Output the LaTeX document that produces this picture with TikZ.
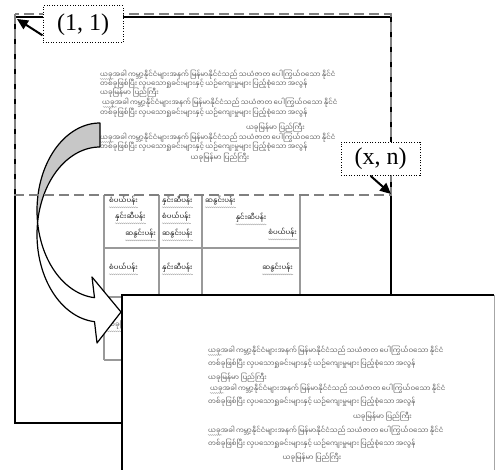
\documentclass[tikz,border=0pt]{standalone}
\usepackage{fontspec}
\setmainfont{Liberation Serif}
\newfontfamily\mmfont[Script=Myanmar]{Noto Sans Myanmar UI}
\usetikzlibrary{arrows.meta,decorations.pathmorphing}

% paragraph used on the page and in the enlarged view
\newcommand{\mmLineA}{ယခုအခါ ကမ္ဘာ့နိုင်ငံများအနက် မြန်မာနိုင်ငံသည် သယံဇာတ ပေါကြွယ်ဝသော နိုင်ငံ}
\newcommand{\mmLineB}{တစ်ခုဖြစ်ပြီး လှပသောရှုခင်းများနှင့် ယဉ်ကျေးမှုများ ပြည့်စုံသော အလွန်}
\newcommand{\mmLineC}{ယခုမြန်မာ ပြည်ကြီး}
\newcommand{\mmJasmine}{စံပယ်ပန်း}
\newcommand{\mmRose}{နှင်းဆီပန်း}
\newcommand{\mmTurmeric}{ဆနွင်းပန်း}

\begin{document}
\begin{tikzpicture}[x=1pt,y=-1pt,
  pageframe/.style={draw=black,line width=2.5pt},
  viewport/.style={draw=black!50,line width=2pt,dash pattern=on 10pt off 5pt},
  bodyline/.style={font=\mmfont\fontsize{7}{8}\selectfont,text=black!62,inner sep=0pt},
  celltext/.style={font=\mmfont\fontsize{7}{8}\selectfont,text=black!90,inner sep=0pt},
  gridline/.style={draw=black!40,line width=1.2pt},
  spellmark/.style={draw=black!35,line width=0.4pt,decorate,
    decoration={snake,amplitude=0.5pt,segment length=2pt}},
  coordlabel/.style={draw=black,fill=white,line width=1pt,dash pattern=on 1pt off 1.6pt,
    font=\fontsize{24}{26}\selectfont,inner sep=2pt},
  pointer/.style={-{Triangle[length=11pt,width=10pt]},line width=2pt},
  ribbonback/.style={fill=black!22,draw=black,line width=1.2pt,line join=round},
  ribbonfront/.style={fill=white,draw=black,line width=1.2pt,line join=round},
]
\useasboundingbox (0,0) rectangle (496,470);
\fill[white] (0,0) rectangle (496,470);

% ---- the page -------------------------------------------------------
\draw[pageframe] (15,17) rectangle (391,423);

% text block on the page: left, right and centred paragraphs
\node[bodyline,anchor=west] (p1a) at (100,75)  {\makebox[205pt][s]{\mmLineA}};
\node[bodyline,anchor=west] (p1b) at (100,84)  {\makebox[205pt][s]{\mmLineB}};
\node[bodyline,anchor=west] (p1c) at (100,93)  {\mmLineC};
\node[bodyline,anchor=west] (p2a) at (102,103) {\makebox[203pt][s]{\mmLineA}};
\node[bodyline,anchor=west] (p2b) at (100,113) {\makebox[205pt][s]{\mmLineB}};
\node[bodyline,anchor=east] (p2c) at (305,128) {\mmLineC};
\node[bodyline,anchor=west] (p3a) at (100,138) {\makebox[205pt][s]{\mmLineA}};
\node[bodyline,anchor=west] (p3b) at (100,147) {\makebox[205pt][s]{\mmLineB}};
\node[bodyline] (p3c) at (220,158) {\mmLineC};
\draw[spellmark] (100,79) -- (114,79);
\draw[spellmark] (103,107) -- (117,107);
\draw[spellmark] (100,142) -- (114,142);

% table on the page
\foreach \gx in {104,159,202,300} \draw[gridline] (\gx,195) -- (\gx,360);
\foreach \gy in {248,297,360} \draw[gridline] (104,\gy) -- (300,\gy);
\node[celltext,anchor=west] (c11a) at (109,201) {\mmJasmine};
\node[celltext,anchor=west] (c11b) at (115,217) {\mmRose};
\node[celltext,anchor=east] (c11c) at (156,234) {\mmTurmeric};
\node[celltext,anchor=west] (c12a) at (162,201) {\mmRose};
\node[celltext,anchor=west] (c12b) at (162,217) {\mmJasmine};
\node[celltext,anchor=west] (c12c) at (162,234) {\mmTurmeric};
\node[celltext,anchor=west] (c13a) at (205,201) {\mmTurmeric};
\node[celltext,anchor=center] (c13b) at (251,218) {\mmRose};
\node[celltext,anchor=east] (c13c) at (297,233) {\mmJasmine};
\node[celltext,anchor=west] (c21) at (109,268) {\mmJasmine};
\node[celltext,anchor=west] (c22) at (162,268) {\mmRose};
\node[celltext,anchor=east] (c23) at (293,268) {\mmTurmeric};
\node[bodyline,anchor=west] (c31) at (107,325) {\mmLineC};
\foreach \w in {c11a,c11b,c11c,c12a,c12b,c12c,c13a,c13b,c13c,c21,c22,c23,c31}
  \draw[spellmark] ([yshift=-1.5pt]\w.south west) -- ([yshift=-1.5pt]\w.south east);

% ---- curved ribbon arrow ---------------------------------------------
\filldraw[ribbonback]
  plot[domain=90:187.88,samples=40] ({100+63*cos(\x)},{210.5-87.5*sin(\x)})
  -- plot[domain=172.12:90,samples=40] ({100+63*cos(\x)},{234.5-87.5*sin(\x)})
  -- cycle;
\filldraw[ribbonfront]
  plot[domain=172.12:265,samples=50] ({100+63*cos(\x)},{234.5-87.5*sin(\x)})
  -- (97,343) -- (121,312) -- (92,277)
  -- plot[domain=265:187.88,samples=50] ({100+63*cos(\x)},{210.5-87.5*sin(\x)})
  -- cycle;

% ---- visible region (1,1)-(x,n) --------------------------------------
\draw[viewport] (15,14) rectangle (391,195);

\coordinate (origin) at (17,19);
\coordinate (corner) at (391,194);
\node[coordlabel,minimum width=80pt,minimum height=37pt] (lab1) at (83,24.5) {(1, 1)};
\node[coordlabel,minimum width=79pt,minimum height=33pt] (lab2) at (380.5,159) {(x, n)};
\draw[pointer] (lab1.195) -- (origin);
\draw[pointer] (lab2.240) -- (corner);

% ---- enlarged view -----------------------------------------------------
\fill[white] (122,295) rectangle (496,470);
\draw[black!35,line width=1pt] (494,295) -- (494,470);
\draw[black,line width=2.5pt] (122,471) -- (122,295) -- (494,295);

\node[bodyline,anchor=west] (q1a) at (208,351) {\makebox[204pt][s]{\mmLineA}};
\node[bodyline,anchor=west] (q1b) at (208,364) {\makebox[204pt][s]{\mmLineB}};
\node[bodyline,anchor=west] (q1c) at (208,378) {\mmLineC};
\node[bodyline,anchor=west] (q2a) at (210,389) {\makebox[202pt][s]{\mmLineA}};
\node[bodyline,anchor=west] (q2b) at (208,402) {\makebox[204pt][s]{\mmLineB}};
\node[bodyline,anchor=east] (q2c) at (412,417) {\mmLineC};
\node[bodyline,anchor=west] (q3a) at (208,431) {\makebox[204pt][s]{\mmLineA}};
\node[bodyline,anchor=west] (q3b) at (208,444) {\makebox[204pt][s]{\mmLineB}};
\node[bodyline] (q3c) at (312,458) {\mmLineC};
\draw[spellmark] (208,355) -- (222,355);
\draw[spellmark] (210,393) -- (224,393);
\draw[spellmark] (208,435) -- (222,435);
\end{tikzpicture}
\end{document}
